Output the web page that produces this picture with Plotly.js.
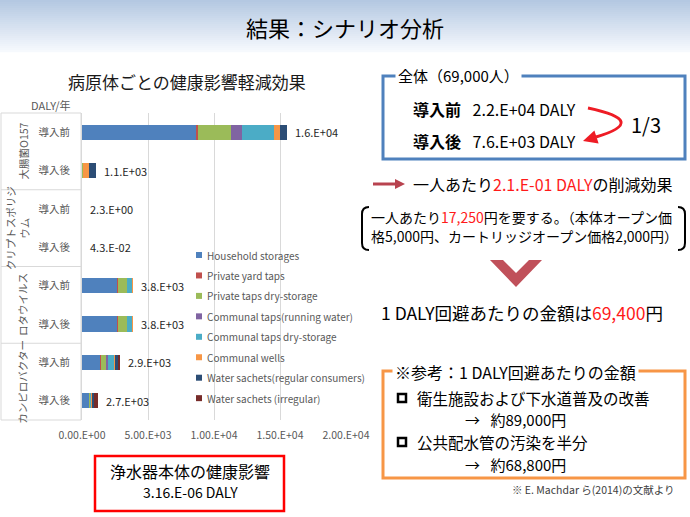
<!DOCTYPE html>
<html>
<head>
<meta charset="utf-8">
<script src="https://cdn.plot.ly/plotly-3.0.1.min.js"></script>
<style>html,body{margin:0;padding:0;background:#fff;}#chart{width:690px;height:517px;}</style>
</head>
<body>
<div id="chart"></div>
<script>
// ---------------- DATA ----------------
const pathogenLabels = ['大腸菌O157', 'クリプトスポリジ<br>ウム', 'ロタウイルス', 'カンピロバクター'];
const phases = ['導入前', '導入後'];
const seriesNames = [
  'Household storages', 'Private yard taps', 'Private taps dry-storage',
  'Communal taps(running water)', 'Communal taps dry-storage', 'Communal wells',
  'Water sachets(regular consumers)', 'Water sachets (irregular)'
];
// order of bars (top to bottom): 大腸菌 前/後, クリプト 前/後, ロタ 前/後, カンピロ 前/後
const householdStorages   = [8660, 0,   2.3, 0.03,  2680, 2680, 1390, 500];
const privateYardTaps     = [100,  0,   0,   0,     30,   30,   50,   20];
const privateTapsDry      = [2550, 100, 0,   0,     680,  680,  400,  80];
const communalTapsRunning = [830,  0,   0,   0,     0,    0,    100,  30];
const communalTapsDry     = [2420, 0,   0,   0,     380,  380,  500,  60];
const communalWells       = [430,  400, 0,   0.013, 70,   70,   50,   60];
const sachetsRegular      = [510,  580, 0,   0,     0,    0,    200,  180];
const sachetsIrregular    = [0,    0,   0,   0,     0,    0,    180,  250];
const totalLabels = ['1.6.E+04', '1.1.E+03', '2.3.E+00', '4.3.E-02', '3.8.E+03', '3.8.E+03', '2.9.E+03', '2.7.E+03'];
const xTickVals = [0, 5000, 10000, 15000, 20000];
const xTickText = ['0.00.E+00', '5.00.E+03', '1.00.E+04', '1.50.E+04', '2.00.E+04'];

// ---------------- STYLE ----------------
const seriesColors = ['#4f81bd', '#c0504d', '#9bbb59', '#8064a2', '#4bacc6', '#f79646', '#2c4d75', '#772c2a'];
const FONT = "'Noto Sans CJK JP', 'Noto Sans', sans-serif";
const W = 690, H = 517;
const px = x => x / W;
const py = y => 1 - y / H;

const allSeries = [householdStorages, privateYardTaps, privateTapsDry, communalTapsRunning,
  communalTapsDry, communalWells, sachetsRegular, sachetsIrregular];
const yIdx = totalLabels.map((_, i) => i);
const tickText = yIdx.map(i => phases[i % 2]);

const traces = allSeries.map((vals, s) => ({
  type: 'bar', orientation: 'h', name: seriesNames[s],
  x: vals, y: yIdx, width: 0.4,
  marker: {color: seriesColors[s], line: {width: 0}},
  showlegend: false, hoverinfo: 'skip'
}));

const annotations = [];
const shapes = [];

function ann(x, y, text, size, opts) {
  annotations.push(Object.assign({
    xref: 'paper', yref: 'paper', x: px(x), y: py(y), text: text, showarrow: false,
    xanchor: 'left', yanchor: 'middle', font: {family: FONT, size: size, color: '#000'}
  }, opts || {}));
}
function rectP(x0, y0, x1, y1, line, fill, layer) {
  shapes.push({type: 'rect', xref: 'paper', yref: 'paper', x0: px(x0), x1: px(x1), y0: py(y0), y1: py(y1),
    line: line, fillcolor: fill || 'rgba(0,0,0,0)', layer: layer || 'below'});
}
function pathP(cmds, line, fill) {
  const d = cmds.map(c => c[0] + (c.length > 1 ? ' ' : '') +
    c.slice(1).map((v, k) => k % 2 === 0 ? px(v).toFixed(5) : py(v).toFixed(5)).join(' ')).join(' ');
  shapes.push({type: 'path', xref: 'paper', yref: 'paper', path: d,
    line: line || {width: 0}, fillcolor: fill || 'rgba(0,0,0,0)', layer: 'above'});
}

// Title banner gradient
const bandTop = [180, 200, 226], bandBot = [246, 249, 253];
const nStrips = 26;
for (let i = 0; i < nStrips; i++) {
  const t = i / (nStrips - 1);
  const c = bandTop.map((v, k) => Math.round(v + (bandBot[k] - v) * t));
  rectP(0, i * 2, W, i * 2 + 2.2, {width: 0}, `rgb(${c[0]},${c[1]},${c[2]})`);
}
ann(345, 27, '結果：シナリオ分析', 22, {xanchor: 'center'});

// Chart title and unit
ann(187, 81, '病原体ごとの健康影響軽減効果', 17, {xanchor: 'center', font: {family: FONT, size: 17, color: '#1a1a1a'}});
ann(29, 105, 'DALY/年', 11, {font: {family: FONT, size: 11, color: '#595959'}});

// Left category box
rectP(1, 113, 81, 420, {color: '#d9d9d9', width: 1});
[1.5, 3.5, 5.5].forEach(v => {
  shapes.push({type: 'line', xref: 'paper', yref: 'y', x0: px(1), x1: px(81), y0: v, y1: v,
    line: {color: '#d9d9d9', width: 1}, layer: 'below'});
});
pathogenLabels.forEach((lab, p) => {
  annotations.push({xref: 'paper', yref: 'y', x: px(p === 1 ? 17 : 23), y: p * 2 + 0.5, text: lab,
    textangle: -90, showarrow: false, xanchor: 'center', yanchor: 'middle',
    font: {family: FONT, size: 10.5, color: '#595959'}});
});

// Totals labels
yIdx.forEach(i => {
  const tot = allSeries.reduce((a, s) => a + s[i], 0);
  annotations.push({xref: 'x', yref: 'y', x: tot, y: i, text: totalLabels[i], showarrow: false,
    xanchor: 'left', yanchor: 'middle', xshift: 6, font: {family: FONT, size: 11, color: '#262626'}});
});

// Custom legend
seriesNames.forEach((nm, s) => {
  const yy = 255 + s * 20.45;
  rectP(196, yy - 3, 202, yy + 3, {width: 0}, seriesColors[s], 'above');
  ann(205, yy, nm, 10, {font: {family: FONT, size: 10, color: '#595959'}});
});

// Red box bottom
rectP(95, 456, 284, 511, {color: '#ff0000', width: 2.5});
ann(190, 471, '浄水器本体の健康影響', 16, {xanchor: 'center'});
ann(190, 492, '3.16.E-06 DALY', 14, {xanchor: 'center'});

// Blue box
rectP(383, 76, 685, 159, {color: '#4f81bd', width: 3});
ann(395, 76, '全体（69,000人）', 15, {bgcolor: '#ffffff', borderpad: 2});
ann(411, 109, '<b>導入前</b>\u2002 2.2.E+04 DALY', 16);
ann(411, 141, '<b>導入後</b>\u2002 7.6.E+03 DALY', 16);
pathP([['M', 588, 108], ['Q', 650, 121, 596, 137]], {color: '#ee1c25', width: 3});
pathP([['M', 583, 141], ['L', 598.6, 143.5], ['L', 594.4, 130.4], ['Z']], {width: 0}, '#ee1c25');
ann(646, 124, '1/3', 20, {xanchor: 'center'});

// Arrow line
shapes.push({type: 'line', xref: 'paper', yref: 'paper', x0: px(373), x1: px(397), y0: py(184), y1: py(184),
  line: {color: '#b8434f', width: 3}, layer: 'above'});
pathP([['M', 405, 184], ['L', 395, 179], ['L', 395, 189], ['Z']], {width: 0}, '#b8434f');
ann(411, 184, '一人あたり<span style="color:#ff1a1a">2.1.E-01 DALY</span>の削減効果', 16);

// Bracketed text
pathP([['M', 369, 207], ['Q', 362, 207, 362, 214], ['L', 362, 243], ['Q', 362, 250, 369, 250]], {color: '#000', width: 2});
pathP([['M', 678, 207], ['Q', 685, 207, 685, 214], ['L', 685, 243], ['Q', 685, 250, 678, 250]], {color: '#000', width: 2});
ann(369, 217, '一人あたり<span style="color:#ff1a1a">17,250</span>円を要する。（本体オープン価', 14);
ann(369, 236, '格5,000円、カートリッジオープン価格2,000円）', 14);

// Chevron
pathP([['M', 490, 260], ['L', 503, 260], ['L', 516, 273], ['L', 529, 260], ['L', 542, 260], ['L', 516, 287], ['Z']],
  {width: 0}, '#c0505a');

ann(522, 312, '1 DALY回避あたりの金額は<span style="color:#ff1a1a">69,400</span>円', 17.5, {xanchor: 'center'});

// Orange box
rectP(383, 371, 685, 478, {color: '#f79646', width: 3});
ann(392, 372, '※参考：1 DALY回避あたりの金額', 16, {bgcolor: '#ffffff', borderpad: 2});
rectP(398, 394, 406, 402, {color: '#000', width: 2.5}, null, 'above');
rectP(398, 438, 406, 446, {color: '#000', width: 2.5}, null, 'above');
ann(416, 397.5, '衛生施設および下水道普及の改善', 15.5, {borderpad: 0});
ann(464, 419.8, '→\u2002\u2009約89,000円', 15, {borderpad: 0});
ann(416, 442.1, '公共配水管の汚染を半分', 15.5, {borderpad: 0});
ann(464, 464.4, '→\u2002\u2009約68,800円', 15, {borderpad: 0});
ann(677, 490, '※ E. Machdar ら(2014)の文献より', 10.5, {xanchor: 'right', font: {family: FONT, size: 10.5, color: '#404040'}});

const layout = {
  width: W, height: H,
  margin: {l: 0, r: 0, t: 0, b: 0, pad: 0},
  paper_bgcolor: '#ffffff', plot_bgcolor: 'rgba(0,0,0,0)',
  barmode: 'stack', showlegend: false,
  font: {family: FONT},
  xaxis: {
    domain: [px(82), px(346)], range: [0, 20000], tickvals: xTickVals, ticktext: xTickText,
    showgrid: true, gridcolor: '#d9d9d9', gridwidth: 1, zeroline: false, showline: false,
    ticks: '', tickfont: {family: FONT, size: 10.5, color: '#595959'}, ticklabelstandoff: 7,
    fixedrange: true, automargin: false
  },
  yaxis: {
    domain: [py(420), py(113)], range: [7.5, -0.5], tickvals: yIdx, ticktext: tickText,
    showgrid: false, zeroline: false, showline: true, linecolor: '#d9d9d9', linewidth: 1,
    ticks: '', tickfont: {family: FONT, size: 10.5, color: '#595959'}, ticklabelstandoff: 9,
    fixedrange: true, automargin: false
  },
  shapes: shapes,
  annotations: annotations
};

Plotly.newPlot('chart', traces, layout, {displayModeBar: false, staticPlot: true});
</script>
</body>
</html>
